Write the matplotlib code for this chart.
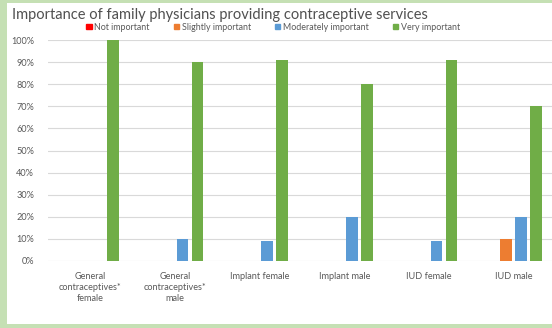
import matplotlib.pyplot as plt
import numpy as np
from matplotlib.patches import Rectangle, Patch

plt.rcParams['font.family'] = ['Lato', 'DejaVu Sans']

categories = ['General\ncontraceptives*\nfemale', 'General\ncontraceptives*\nmale',
              'Implant female', 'Implant male', 'IUD female', 'IUD male']
series = ['Not important', 'Slightly important', 'Moderately important', 'Very important']
not_important = [0, 0, 0, 0, 0, 0]
slightly_important = [0, 0, 0, 0, 0, 10]
moderately_important = [0, 10, 9, 20, 9, 20]
very_important = [100, 90, 91, 80, 91, 70]
colors = ['#ff0000', '#ed7d31', '#5b9bd5', '#70ad47']

fig = plt.figure(figsize=(5.52, 3.28), dpi=100)
fig.patch.set_facecolor('#c5e0b4')
fig.patches.append(Rectangle((7 / 552, 4 / 328), 1, 1 - 7 / 328, transform=fig.transFigure,
                             facecolor='white', edgecolor='none', zorder=-1))

ax = fig.add_axes([48 / 552, 1 - 261 / 328, 508 / 552, 221 / 328])
ax.set_facecolor('none')
ax.set_zorder(2)

x = np.arange(len(categories))
width = 0.14
step = 0.177
values = [not_important, slightly_important, moderately_important, very_important]
for i, (name, vals, c) in enumerate(zip(series, values, colors)):
    ax.bar(x + (i - 1.5) * step, vals, width, color=c, label=name, zorder=3)

ax.set_xlim(-0.5, len(categories) - 0.5)
ax.set_ylim(0, 100)
ax.set_yticks(np.arange(0, 101, 10))
ax.set_yticklabels([f'{v}%' for v in range(0, 101, 10)])
ax.set_xticks(x)
ax.set_xticklabels(categories, linespacing=1.25)
ax.grid(axis='y', color='#d9d9d9', lw=0.8, zorder=0)
for s in ax.spines.values():
    s.set_visible(False)
ax.tick_params(axis='both', length=0, labelsize=6.6, colors='#595959', pad=8)
ax.tick_params(axis='y', pad=10)

fig.text(12 / 552, 1 - 15 / 328, 'Importance of family physicians providing contraceptive services',
         fontsize=10.5, color='#505050', va='center', ha='left')

handles = [Patch(color=c) for c in colors]
fig.legend(handles, series, loc='center', bbox_to_anchor=(273 / 552, 1 - 27 / 328), ncol=4,
           frameon=False, fontsize=6.4, handlelength=0.6, handleheight=0.6, handletextpad=0.3,
           columnspacing=2.7, labelcolor='#595959')

fig.savefig('out.png', dpi=100, facecolor=fig.get_facecolor())
